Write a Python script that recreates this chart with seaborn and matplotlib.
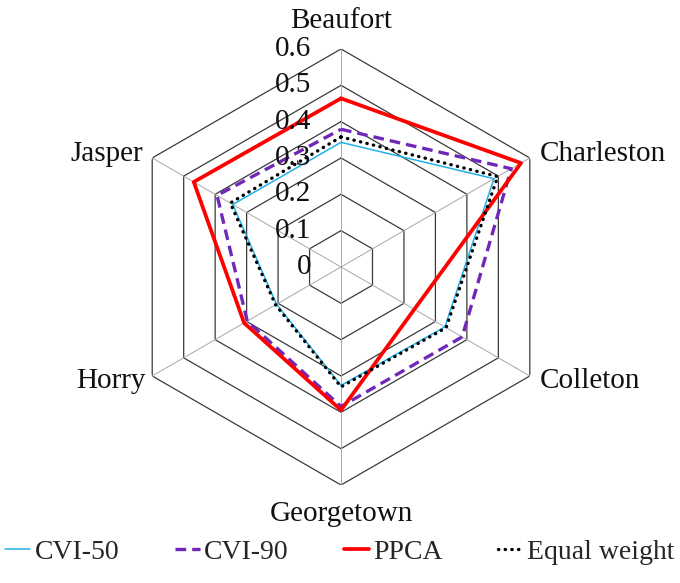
import numpy as np
import pandas as pd
import matplotlib
matplotlib.use("Agg")
import matplotlib.pyplot as plt
import seaborn as sns

# counties, clockwise from the top
counties = ["Beaufort", "Charleston", "Colleton", "Georgetown", "Horry", "Jasper"]

cvi50 = [0.343, 0.486, 0.330, 0.326, 0.205, 0.344]
cvi90 = [0.379, 0.541, 0.385, 0.384, 0.298, 0.394]
ppca = [0.464, 0.572, 0.233, 0.394, 0.308, 0.468]
equal_w = [0.358, 0.498, 0.334, 0.330, 0.208, 0.352]

rticks = [0, 0.1, 0.2, 0.3, 0.4, 0.5, 0.6]

sns.set_theme(style="white")
plt.rcParams["font.family"] = ["Liberation Serif", "DejaVu Serif"]

fig = plt.figure(figsize=(6.8, 5.83), dpi=100)
ax = fig.add_axes([0.1809, 0.1681, 0.6412, 0.7479], projection="polar")
ax.set_theta_zero_location("N")
ax.set_theta_direction(-1)

n = len(counties)
theta = np.linspace(0, 2 * np.pi, n, endpoint=False)
theta_c = np.append(theta, 2 * np.pi)

# hexagon grid
for r in rticks[1:]:
    ax.plot(theta_c, [r] * (n + 1), color="#3a3a3a", lw=0.9, zorder=1)
for t in theta:
    ax.plot([t, t], [0, rticks[-1]], color="#a8a8a8", lw=0.7, zorder=1)

series = [
    ("CVI-50", cvi50, dict(color="#22b0e6", lw=1.1, linestyle="-")),
    ("CVI-90", cvi90, dict(color="#7028b8", lw=2.4, linestyle=(0, (3.2, 1.8)))),
    ("PPCA", ppca, dict(color="#ff0000", lw=2.7, linestyle="-")),
    ("Equal weight", equal_w, dict(color="black", lw=2.4, linestyle=(0, (0.1, 1.9)),
                                   dash_capstyle="round")),
]

for name, vals, st in series:
    df = pd.DataFrame({"theta": theta_c, "r": vals + vals[:1]})
    sns.lineplot(data=df, x="theta", y="r", sort=False, estimator=None, ax=ax,
                 label=name, legend=False, zorder=3, **st)

ax.set_ylim(0, 0.6)
ax.set_xticks([])
ax.set_yticks([])
ax.grid(False)
ax.spines["polar"].set_visible(False)
ax.set_xlabel("")
ax.set_ylabel("")
ax.patch.set_alpha(0)

# radial labels next to the vertical spoke
for r in rticks:
    ax.text(0.5 - 30 / 436, 0.5 + r / 0.6 * 0.5, f"{r:g}", transform=ax.transAxes,
            ha="right", va="center", fontsize=21, color="#111111")

# county labels
offsets = [(0, 28, "center"), (10, 4, "left"), (10, -5, "left"),
           (0, -29, "center"), (-7, -5, "right"), (-9, 4, "right")]
for t, name, (dx, dy, ha) in zip(theta, counties, offsets):
    ax.annotate(name, xy=(t, 0.6), xytext=(dx, dy), textcoords="offset pixels",
                ha=ha, va="center", fontsize=21, color="#111111", annotation_clip=False)

handles, labels = ax.get_legend_handles_labels()
fig.legend(handles, labels, loc="lower center", bbox_to_anchor=(0.5, -0.012), ncol=4,
           frameon=False, fontsize=20, handlelength=0.9, handletextpad=0.15,
           columnspacing=2.0)

fig.savefig("out.png", dpi=100)
